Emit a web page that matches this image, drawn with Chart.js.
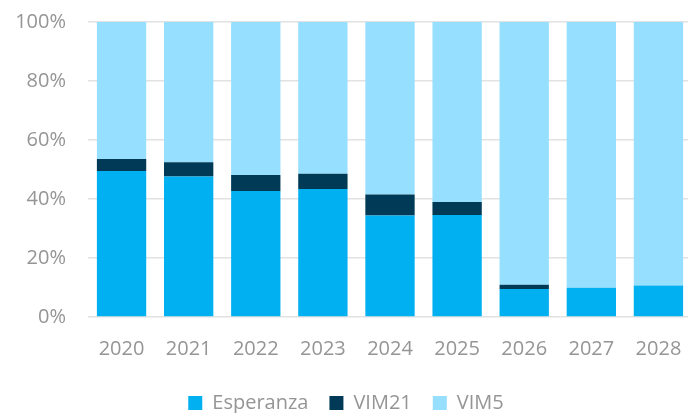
<!DOCTYPE html>
<html>
<head>
<meta charset="utf-8">
<script src="https://cdn.jsdelivr.net/npm/chart.js@4.4.1/dist/chart.umd.min.js"></script>
<style>
  html, body { margin: 0; padding: 0; background: #fff; overflow: hidden; }
  #wrap { width: 692px; height: 413px; }
</style>
</head>
<body>
<div id="wrap"><canvas id="shareChart"></canvas></div>
<script>
const years = ["2020", "2021", "2022", "2023", "2024", "2025", "2026", "2027", "2028"];
const esperanza = [49.5, 47.6, 42.7, 43.4, 34.4, 34.6, 9.5, 9.9, 10.7];
const vim21 = [4.1, 4.9, 5.4, 5.2, 7.1, 4.4, 1.4, 0, 0];
const vim5 = [46.4, 47.5, 51.9, 51.4, 58.5, 61.0, 89.1, 90.1, 89.3];
const yTicks = [0, 20, 40, 60, 80, 100];

const textGrey = "#959595";
const font = { family: "'Open Sans', Lato, sans-serif", size: 20 };

new Chart(document.getElementById("shareChart").getContext("2d"), {
  type: "bar",
  data: {
    labels: years,
    datasets: [
      { label: "Esperanza", data: esperanza, backgroundColor: "#00B0F0" },
      { label: "VIM21", data: vim21, backgroundColor: "#003A57" },
      { label: "VIM5", data: vim5, backgroundColor: "#97DFFF" },
    ],
  },
  options: {
    responsive: true,
    maintainAspectRatio: false,
    animation: false,
    datasets: { bar: { barPercentage: 0.735, categoryPercentage: 1 } },
    layout: { padding: { top: 22, right: 0, left: 0, bottom: -10 } },
    plugins: {
      tooltip: { enabled: false },
      legend: {
        position: "bottom",
        labels: {
          color: textGrey,
          font: font,
          boxWidth: 14,
          boxHeight: 14,
          padding: 21,
        },
      },
    },
    scales: {
      x: {
        stacked: true,
        // ticks kept invisible so the labels sit lower without extra padding
        grid: { color: "transparent", tickColor: "transparent", drawTicks: true, tickLength: 20 },
        border: { display: false },
        ticks: { color: textGrey, font: font, padding: 0 },
        afterFit: (s) => { s.height = 55; },
      },
      y: {
        stacked: true,
        min: 0,
        max: 100,
        afterBuildTicks: (s) => { s.ticks = yTicks.map((v) => ({ value: v })); },
        grid: { color: "#e2e2e2", lineWidth: 1.5, drawTicks: true, tickLength: 22, tickColor: "transparent" },
        border: { display: false },
        ticks: {
          color: textGrey,
          font: font,
          padding: 0,
          callback: (v) => v + "%",
        },
        afterFit: (s) => { s.width = 88; },
      },
    },
  },
});
</script>
</body>
</html>
